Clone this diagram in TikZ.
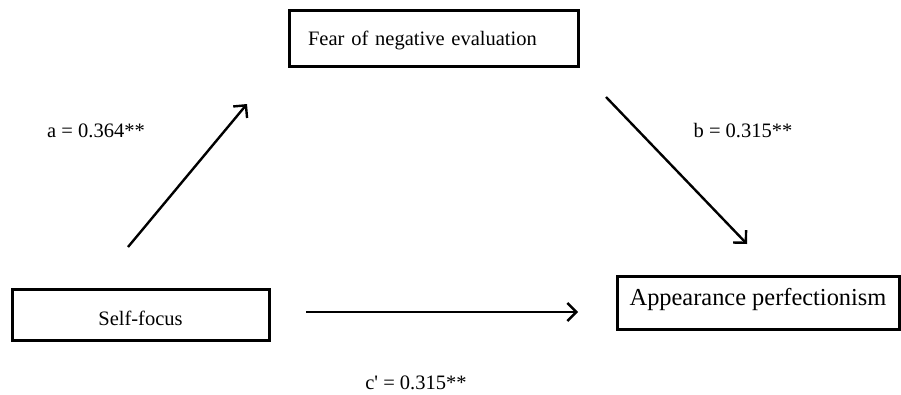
\documentclass[tikz,border=0pt]{standalone}
\usepackage{fontspec}
\setmainfont{Liberation Serif}
\usetikzlibrary{arrows.meta}
\begin{document}
\begin{tikzpicture}[x=1pt,y=-1pt,
  varbox/.style={draw=black,line width=3pt,rectangle,inner ysep=0pt,font=\fontsize{20.5}{24}\selectfont},
  pathlabel/.style={font=\fontsize{20.5}{24}\selectfont,inner sep=0pt},
  patharrow/.style={line width=2.4pt,-{Straight Barb[length=9pt,width=18pt,line width=2.4pt]}}]
\useasboundingbox (0,0) rectangle (901,394);
\node[varbox,minimum width=289pt,minimum height=56pt,inner xsep=19pt,text width=251pt,align=left,text height=14pt,text depth=0pt] (fear) at (433.5,38) {Fear of negative evaluation};
\node[varbox,minimum width=257pt,minimum height=51pt,text height=21pt,text depth=0pt] (self) at (140.5,314.5) {Self-focus};
\node[varbox,minimum width=282pt,minimum height=53pt,font=\fontsize{24.4}{28}\selectfont,text height=17pt,text depth=12pt] (appear) at (758,302.5) {Appearance perfectionism};
\coordinate (a1) at (128,247);
\coordinate (a2) at (247,104);
\coordinate (b1) at (606,97);
\coordinate (b2) at (747,244);
\coordinate (c1) at (306,312);
\coordinate (c2) at (578,312);
\draw[patharrow] (a1) -- (a2);
\draw[patharrow] (b1) -- (b2);
\draw[patharrow] (c1) -- (c2);
\node[pathlabel] (la) at (96,131) {a = 0.364**};
\node[pathlabel] (lb) at (743,131) {b = 0.315**};
\node[pathlabel] (lc) at (416,383) {c\textquotesingle{} = 0.315**};
\end{tikzpicture}
\end{document}
